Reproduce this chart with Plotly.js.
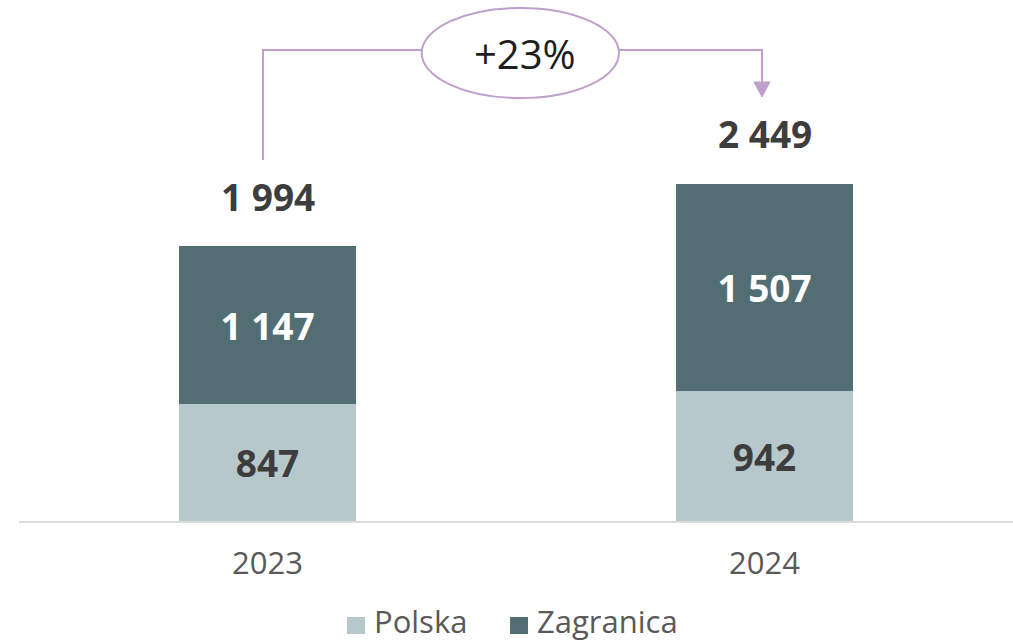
<!DOCTYPE html>
<html>
<head>
<meta charset="utf-8">
<script src="https://cdn.plot.ly/plotly-3.0.1.min.js"></script>
<style>html,body{margin:0;padding:0;background:#fff;}#chart{width:1013px;height:642px;}</style>
</head>
<body>
<div id="chart"></div>
<script>
const years = ['2023', '2024'];
const polska = [847, 942];
const zagranica = [1147, 1507];
const seriesNames = ['Polska', 'Zagranica'];
const seriesColors = ['#b6c8cc', '#526e73'];
const growthLabel = '+23%';

const FONT = 'Open Sans, Lato, sans-serif';
const totals = years.map((y, i) => polska[i] + zagranica[i]);

const traces = [
  {
    type: 'bar', name: seriesNames[0], x: years, y: polska,
    marker: {color: seriesColors[0]},
    texttemplate: '%{y:,}', textposition: 'inside', insidetextanchor: 'middle',
    textangle: 0,
    textfont: {family: FONT, size: 37, color: '#3d3d3d', weight: 700},
    hoverinfo: 'skip'
  },
  {
    type: 'bar', name: seriesNames[1], x: years, y: zagranica,
    marker: {color: seriesColors[1]},
    texttemplate: '%{y:,}', textposition: 'inside', insidetextanchor: 'middle',
    textangle: 0,
    textfont: {family: FONT, size: 37, color: '#ffffff', weight: 700},
    hoverinfo: 'skip'
  }
];

const purple = '#bf9fcb';
const annotations = years.map((y, i) => ({
  x: i, y: totals[i], xref: 'x', yref: 'y',
  text: totals[i].toLocaleString('en-US').replace(/,/g, ' '),
  showarrow: false, xanchor: 'center', yanchor: 'middle', yshift: 50,
  font: {family: FONT, size: 37, color: '#3d3d3d', weight: 700}
}));
annotations.push({
  x: 0.509, y: 0.898, xref: 'paper', yref: 'paper', text: growthLabel,
  showarrow: false, xanchor: 'center', yanchor: 'middle',
  font: {family: FONT, size: 40, color: '#1e1e1e'}
});

// custom legend (text)
const legendTextX = [0.3561, 0.5201];
seriesNames.forEach((n, k) => annotations.push({
  x: legendTextX[k], y: -0.1919, xref: 'paper', yref: 'paper', text: n,
  showarrow: false, xanchor: 'left', yanchor: 'middle', borderpad: 0,
  font: {family: FONT, size: 31, color: '#595959'}
}));

const shapes = [
  {type: 'path', xref: 'paper', yref: 'paper', path: 'M 0.2455 0.6929 L 0.2455 0.9040 L 0.4051 0.9040',
   line: {color: purple, width: 2}},
  {type: 'path', xref: 'paper', yref: 'paper', path: 'M 0.6036 0.9040 L 0.7475 0.9040 L 0.7475 0.8426',
   line: {color: purple, width: 2}},
  {type: 'path', xref: 'paper', yref: 'paper', path: 'M 0.7394 0.8426 L 0.7555 0.8426 L 0.7475 0.8138 Z',
   fillcolor: purple, line: {color: purple, width: 1}},
  {type: 'circle', xref: 'paper', yref: 'paper', x0: 0.4051, x1: 0.6036, y0: 0.8119, y1: 0.9846,
   line: {color: purple, width: 2}, fillcolor: 'rgba(0,0,0,0)'}
];
// custom legend (swatches)
const legendSwatchX = [0.3300, 0.4940];
seriesColors.forEach((c, k) => shapes.push({
  type: 'rect', xref: 'paper', yref: 'paper',
  x0: legendSwatchX[k], x1: legendSwatchX[k] + 0.0181, y0: -0.2169, y1: -0.1843,
  fillcolor: c, line: {width: 0}
}));

const layout = {
  width: 1013, height: 642,
  margin: {l: 19, r: 0, t: 0, b: 121},
  paper_bgcolor: '#ffffff', plot_bgcolor: '#ffffff',
  barmode: 'stack', bargap: 0.642,
  separators: '. ',
  showlegend: false,
  xaxis: {type: 'category', range: [-0.5, 1.5], showline: true, linecolor: '#dcdcdc', linewidth: 2,
          ticks: '', showgrid: false, zeroline: false, automargin: false,
          tickfont: {family: FONT, size: 31, color: '#595959'}, ticklabelstandoff: 14},
  yaxis: {range: [0, 3781], showgrid: false, zeroline: false, showticklabels: false,
          ticks: '', showline: false, automargin: false},
  annotations: annotations,
  shapes: shapes,
  font: {family: FONT}
};

Plotly.newPlot('chart', traces, layout, {displayModeBar: false, staticPlot: true});
</script>
</body>
</html>
